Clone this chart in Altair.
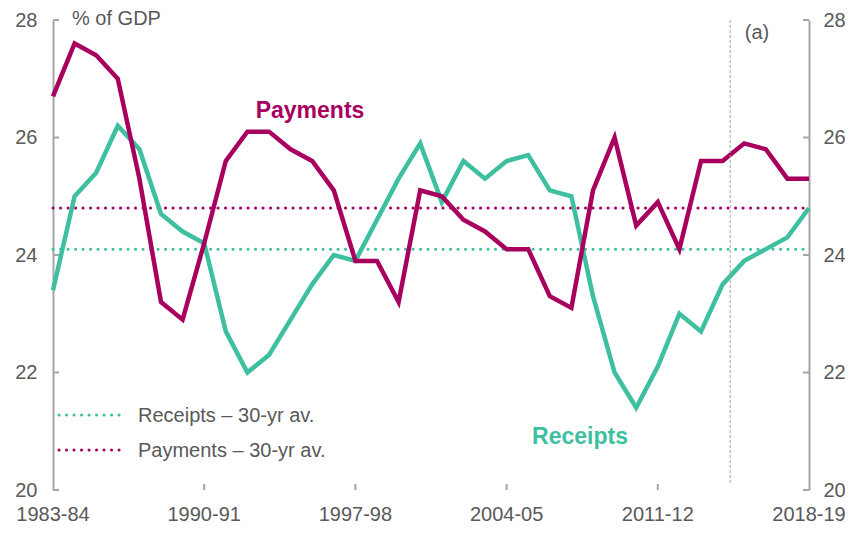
import altair as alt
import pandas as pd

# ---------------- data ----------------
years = [f"{y}-{str(y + 1)[2:]}" for y in range(1983, 2019)]
receipts = [23.4, 25.0, 25.4, 26.2, 25.8, 24.7, 24.4, 24.2, 22.7, 22.0, 22.3, 22.9,
            23.5, 24.0, 23.9, 24.6, 25.3, 25.9, 24.9, 25.6, 25.3, 25.6, 25.7, 25.1,
            25.0, 23.3, 22.0, 21.4, 22.1, 23.0, 22.7, 23.5, 23.9, 24.1, 24.3, 24.8]
payments = [26.7, 27.6, 27.4, 27.0, 25.3, 23.2, 22.9, 24.2, 25.6, 26.1, 26.1, 25.8,
            25.6, 25.1, 23.9, 23.9, 23.2, 25.1, 25.0, 24.6, 24.4, 24.1, 24.1, 23.3,
            23.1, 25.1, 26.0, 24.5, 24.9, 24.1, 25.6, 25.6, 25.9, 25.8, 25.3, 25.3]
avg_names = ["Receipts – 30-yr av.", "Payments – 30-yr av."]
avg_values = [24.1, 24.8]
forecast_break = 31.35          # position (in years from 1983-84) of the dashed line
x_tick_values = [0, 7, 14, 21, 28, 35]
x_tick_labels = [years[i] for i in x_tick_values]
y_tick_values = [20, 22, 24, 26, 28]

PAY = "#A8005F"
REC = "#3DBFA0"
GREY = "#595959"
AXIS = "#A6A6A6"
FONT = "Liberation Sans"

W, H = 756, 470

rows = []
for i, y in enumerate(years):
    rows.append({"idx": i, "year": y, "series": "Receipts", "value": receipts[i]})
    rows.append({"idx": i, "year": y, "series": "Payments", "value": payments[i]})
df = pd.DataFrame(rows)
avg_df = pd.DataFrame({"name": avg_names, "value": avg_values,
                       "series": ["Receipts", "Payments"]})
ytick_df = pd.DataFrame({"value": y_tick_values})
xtick_df = pd.DataFrame({"idx": x_tick_values[1:-1]})
xlab_df = pd.DataFrame({"idx": x_tick_values, "label": x_tick_labels})
brk_df = pd.DataFrame({"idx": [forecast_break]})

x_scale = alt.Scale(domain=[0, 35], nice=False, zero=False)
y_scale = alt.Scale(domain=[20, 28], nice=False, zero=False)
color_scale = alt.Scale(domain=["Receipts", "Payments"], range=[REC, PAY])

x_axis = alt.Axis(values=x_tick_values, labels=False, tickSize=0,
                  domainColor=AXIS, domainWidth=2, title=None)


def y_axis(orient, pad):
    return alt.Axis(orient=orient, values=y_tick_values, tickSize=0, labelPadding=pad,
                    labelFontSize=20, labelColor=GREY, labelFont=FONT,
                    domainColor=AXIS, domainWidth=2, labelOverlap=False,
                    labelFlush=False, labelBound=False, title=None)


lines = alt.Chart(df).mark_line(strokeWidth=4.5).encode(
    x=alt.X("idx:Q", scale=x_scale, axis=x_axis),
    y=alt.Y("value:Q", scale=y_scale, axis=y_axis("left", 16)),
    color=alt.Color("series:N", scale=color_scale, legend=None),
    detail="series:N",
)

avg_rules = alt.Chart(avg_df).mark_rule(strokeWidth=3, strokeDash=[0.1, 7.4],
                                        strokeCap="round").encode(
    x=alt.value(0), x2=alt.value(W),
    y=alt.Y("value:Q", scale=y_scale, axis=y_axis("right", 14)),
    color=alt.Color("series:N", scale=color_scale, legend=None),
)

brk = alt.Chart(brk_df).mark_rule(strokeWidth=1, color="#A0A0A0",
                                  strokeDash=[3, 2]).encode(
    x=alt.X("idx:Q", scale=x_scale, axis=None),
    y=alt.value(0), y2=alt.value(H - 6),
)

left_ticks = alt.Chart(ytick_df).mark_rule(strokeWidth=2, color=AXIS).encode(
    y=alt.Y("value:Q", scale=y_scale, axis=None),
    x=alt.value(0), x2=alt.value(6),
)
right_ticks = alt.Chart(ytick_df).mark_rule(strokeWidth=2, color=AXIS).encode(
    y=alt.Y("value:Q", scale=y_scale, axis=None),
    x=alt.value(W - 6), x2=alt.value(W),
)
bottom_ticks = alt.Chart(xtick_df).mark_rule(strokeWidth=2, color=AXIS).encode(
    x=alt.X("idx:Q", scale=x_scale, axis=None),
    y=alt.value(H - 6), y2=alt.value(H),
)
x_labels = alt.Chart(xlab_df).mark_text(
    align="center", baseline="middle", fontSize=20, font=FONT, color=GREY).encode(
    x=alt.X("idx:Q", scale=x_scale, axis=None),
    y=alt.value(H + 25), text="label:N")

# legend (manual, dotted samples)
leg_rec = alt.Chart(avg_df.iloc[[0]]).mark_rule(strokeWidth=3, strokeDash=[0.1, 7.4],
                                                strokeCap="round", color=REC).encode(
    x=alt.value(6), x2=alt.value(72), y=alt.value(H - 75))
leg_pay = alt.Chart(avg_df.iloc[[1]]).mark_rule(strokeWidth=3, strokeDash=[0.1, 7.4],
                                                strokeCap="round", color=PAY).encode(
    x=alt.value(6), x2=alt.value(72), y=alt.value(H - 40))
leg_rec_t = alt.Chart(avg_df.iloc[[0]]).mark_text(
    align="left", baseline="middle", fontSize=20, font=FONT, color=GREY).encode(
    x=alt.value(85), y=alt.value(H - 74), text="name:N")
leg_pay_t = alt.Chart(avg_df.iloc[[1]]).mark_text(
    align="left", baseline="middle", fontSize=20, font=FONT, color=GREY).encode(
    x=alt.value(85), y=alt.value(H - 39), text="name:N")


def label(txt, x, y, color, size, weight="normal", align="center"):
    return alt.Chart(pd.DataFrame({"t": [txt]})).mark_text(
        align=align, baseline="middle", fontSize=size, fontWeight=weight,
        font=FONT, color=color).encode(x=alt.value(x), y=alt.value(y), text="t:N")


pay_lbl = label("Payments", 257, 91, PAY, 23, "bold")
rec_lbl = label("Receipts", 527, H - 53, REC, 23, "bold")
a_lbl = label("(a)", 704, 13, GREY, 20)
unit_lbl = label("% of GDP", 19, -1, GREY, 20, align="left")

chart = alt.layer(
    avg_rules, lines, brk, left_ticks, right_ticks, bottom_ticks, x_labels,
    leg_rec, leg_pay, leg_rec_t, leg_pay_t, pay_lbl, rec_lbl, a_lbl, unit_lbl,
).resolve_axis(y="independent").properties(
    width=W, height=H,
    autosize=alt.AutoSizeParams(type="none"),
    padding={"left": 45, "top": 12, "right": 36, "bottom": 35},
).configure_view(stroke=None).configure_axis(grid=False)

chart.save("out.html", embed_options={"renderer": "svg", "actions": False})
